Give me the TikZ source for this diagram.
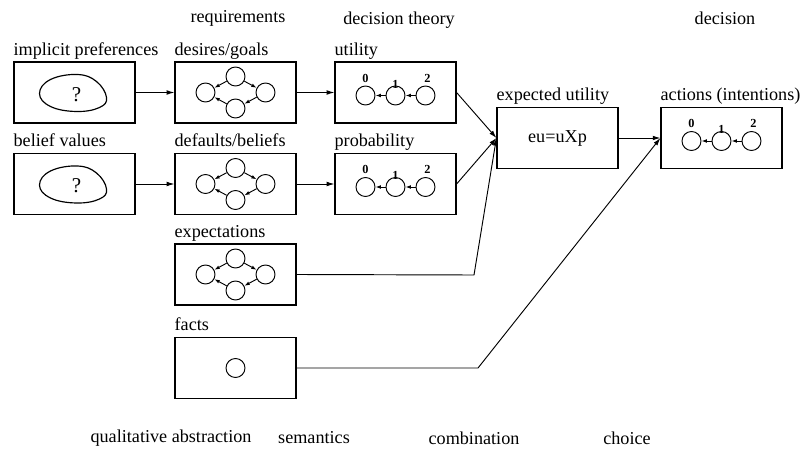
\documentclass[tikz,border=0pt]{standalone}
\usepackage{fontspec}
\setmainfont{Liberation Serif}
\usetikzlibrary{arrows.meta,calc,positioning}
\tikzset{
  box/.style={draw, line width=1pt, minimum width=3.63cm, minimum height=1.83cm, inner sep=0pt, font=\fontsize{15.5}{18}\selectfont},
  lab/.style={anchor=base west, inner sep=0pt, font=\fontsize{15.5}{18}\selectfont},
  head/.style={inner sep=0pt, font=\fontsize{15.5}{18}\selectfont},
  dot/.style={draw, circle, line width=0.8pt, minimum size=0.57cm, inner sep=0pt},
  num/.style={inner sep=0pt, font=\fontsize{10.5}{12}\bfseries},
  arr/.style={line width=0.8pt, -{Latex[length=2.3mm,width=1.4mm]}},
  tip/.style={line width=0.8pt, -{Latex[length=1.6mm,width=1.1mm]}}
}
\begin{document}
\begin{tikzpicture}[x=0.03cm, y=-0.03cm]
    \useasboundingbox (0,0) rectangle (803,450);
    % Column headings
    \node[head] (hreq) at (238,18) {requirements};
    \node[head] (hdec) at (399,20) {decision theory};
    \node[head] (hfin) at (725,18) {decision};
    \node[head] (hqual) at (171,438) {qualitative abstraction};
    \node[head] (hsem) at (314,438) {semantics};
    \node[head] (hcomb) at (474,438) {combination};
    \node[head] (hcho) at (627,438) {choice};
    % Boxes
    \node[box] (pref) at (74.5,92.5) {};
    \node[box] (goals) at (235.5,92.5) {};
    \node[box] (util) at (395.5,92.5) {};
    \node[box] (bval) at (74.5,184) {};
    \node[box] (beliefs) at (235.5,184) {};
    \node[box] (prob) at (395.5,184) {};
    \node[box] (expect) at (235.5,274.5) {};
    \node[box] (facts) at (235.5,368) {};
    \node[box] (eu) at (557.5,138) {eu=uXp};
    \node[box] (act) at (721.5,138) {};
    % Box titles
    \node[lab] (lpref) at ($(pref.north west)+(0,-6)$) {implicit preferences};
    \node[lab] (lgoals) at ($(goals.north west)+(0,-6)$) {desires/goals};
    \node[lab] (lutil) at ($(util.north west)+(0,-6)$) {utility};
    \node[lab] (lbval) at ($(bval.north west)+(0,-6)$) {belief values};
    \node[lab] (lbeliefs) at ($(beliefs.north west)+(0,-6)$) {defaults/beliefs};
    \node[lab] (lprob) at ($(prob.north west)+(0,-6)$) {probability};
    \node[lab] (lexpect) at ($(expect.north west)+(0,-6)$) {expectations};
    \node[lab] (lfacts) at ($(facts.north west)+(0,-6)$) {facts};
    \node[lab] (leu) at ($(eu.north west)+(0,-6)$) {expected utility};
    \node[lab] (lact) at ($(act.north west)+(0,-6)$) {actions (intentions)};
    % Unknown preferences and values
    \foreach \b in {pref,bval} {
        \draw[line width=1pt, shift={(\b.center)}] plot[smooth cycle, tension=0.7]
            coordinates {(-35,1) (-24,-13) (3,-18) (22,-11) (32,5) (25,15) (2,19) (-24,14)};
        \node[inner sep=0pt, font=\fontsize{18}{20}\selectfont] (\b-q) at ($(\b)+(2,2)$) {?};
    }
    % Partial orders
    \foreach \b in {goals,beliefs,expect} {
        \node[dot] (\b-t) at ($(\b)+(0,-16)$) {};
        \node[dot] (\b-l) at ($(\b)+(-30,0)$) {};
        \node[dot] (\b-r) at ($(\b)+(30,0)$) {};
        \node[dot] (\b-b) at ($(\b)+(0,16)$) {};
        \draw[tip] (\b-t) -- (\b-l);
        \draw[tip] (\b-b) -- (\b-l);
        \draw[tip] (\b-t) -- (\b-r);
        \draw[tip] (\b-r) -- (\b-b);
    }
    \node[dot] (fact) at (facts) {};
    % Ranked scales
    \foreach \b in {util,prob,act} {
        \node[dot] (\b-0) at ($(\b)+(-30,3)$) {};
        \node[dot] (\b-1) at ($(\b)+(0,3)$) {};
        \node[dot] (\b-2) at ($(\b)+(30,3)$) {};
        \node[num, anchor=south] (\b-n0) at ($(\b-0.north)+(0,-3)$) {0};
        \node[num, anchor=south] (\b-n1) at ($(\b-1.north)+(0,3)$) {1};
        \node[num, anchor=south] (\b-n2) at ($(\b-2.north)+(2,-3)$) {2};
        \draw[tip] (\b-2) -- (\b-1);
        \draw[tip] (\b-1) -- (\b-0);
    }
    % Flow
    \coordinate (ebend) at (474,275);
    \coordinate (fbend) at (478,368);
    \draw[arr] (pref) -- (goals);
    \draw[arr] (goals) -- (util);
    \draw[arr] (bval) -- (beliefs);
    \draw[arr] (beliefs) -- (prob);
    \draw[arr] (util.east) -- (eu.west);
    \draw[arr] (prob.east) -- (eu.west);
    \draw[arr] (expect.east) -- (ebend) -- (eu.west);
    \draw[arr] (facts.east) -- (fbend) -- (act.west);
    \draw[arr] (eu) -- (act);
\end{tikzpicture}
\end{document}
